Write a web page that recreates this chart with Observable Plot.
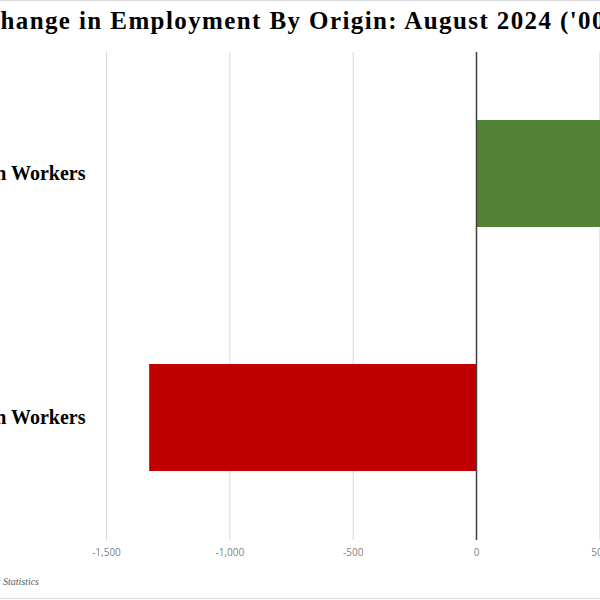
<!DOCTYPE html>
<html>
<head>
<meta charset="utf-8">
<script src="https://cdn.jsdelivr.net/npm/d3@7"></script>
<script src="https://cdn.jsdelivr.net/npm/@observablehq/plot@0.6"></script>
<style>
  html, body { margin: 0; padding: 0; background: #fff; }
  #wrap { position: relative; width: 600px; height: 600px; overflow: hidden; background: #fff; }
  #frameTop, #frameBottom { position: absolute; left: 0; width: 600px; height: 1px; background: #d9d9d9; }
  #frameTop { top: 0; }
  #frameBottom { top: 598px; }
  #title { position: absolute; top: 7px; left: -19px; white-space: nowrap; line-height: normal;
           font-family: "Liberation Serif", "DejaVu Serif", serif; font-weight: bold; font-size: 25px;
           letter-spacing: 1.4px; color: #000; }
  #chart { position: absolute; left: -200px; top: 40px; width: 1066px; }
  #chart svg { max-width: none !important; }
  #source { position: absolute; right: 561px; top: 576px; white-space: nowrap;
            font-family: "Liberation Serif", serif; font-style: italic; font-size: 10px; color: #595959; }
</style>
</head>
<body>
<div id="wrap">
  <div id="frameTop"></div>
  <div id="title">Change in Employment By Origin: August 2024 ('000)</div>
  <div id="chart"></div>
  <div id="source">Source: Bureau of Labor Statistics</div>
  <div id="frameBottom"></div>
</div>
<script>
const origins = ["Foreign-Born Workers", "Native-Born Workers"];
const changes = [1271, -1325];
const barColors = ["#538135", "#C00000"];
const xTicks = [-1500, -1000, -500, 0, 500, 1000, 1500];

const data = origins.map((o, i) => ({origin: o, value: changes[i], color: barColors[i]}));
const fmt = d => d.toLocaleString("en-US");

const chart = Plot.plot({
  width: 1066,
  height: 530,
  marginLeft: 306,
  marginRight: 20,
  marginTop: 12,
  marginBottom: 30,
  style: {background: "transparent", maxWidth: "none"},
  x: {domain: [-1500, 1500], ticks: xTicks, tickFormat: fmt, label: null},
  y: {domain: origins, paddingInner: 0.56, paddingOuter: 0.28, label: null},
  marks: [
    Plot.gridX(xTicks, {stroke: "#d9d9d9", strokeOpacity: 1, strokeWidth: 1}),
    Plot.barX(data, {x: "value", y: "origin", fill: "color"}),
    Plot.ruleX([0], {stroke: "#404040", strokeWidth: 1.5}),
    Plot.axisX(xTicks, {tickSize: 0, tickPadding: 8, fontSize: 10, fill: "#7f7f7f", label: null,
      fontFamily: "'Open Sans', 'Noto Sans', sans-serif", tickFormat: fmt}),
    Plot.axisY({tickSize: 0, tickPadding: 21, fontSize: 20, fontWeight: "bold", fill: "#000", label: null,
      fontFamily: "'Liberation Serif', serif"})
  ]
});
document.getElementById("chart").appendChild(chart);
</script>
</body>
</html>
